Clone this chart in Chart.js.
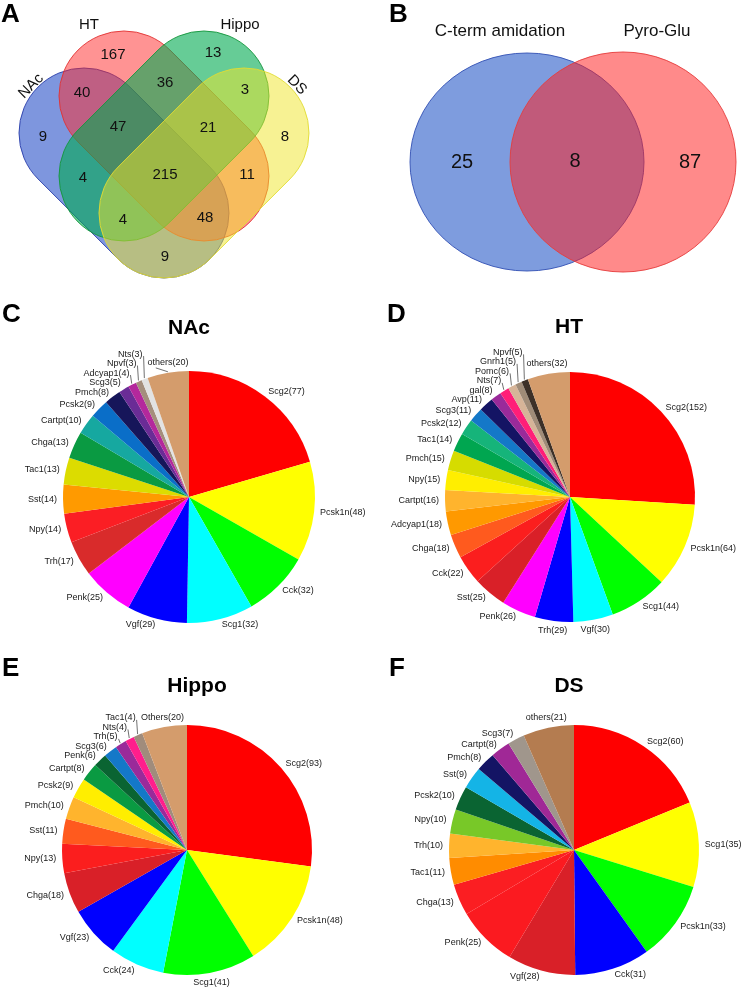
<!DOCTYPE html>
<html><head><meta charset="utf-8">
<script src="https://cdn.jsdelivr.net/npm/chart.js@4.4.1/dist/chart.umd.min.js"></script>
<style>
html,body{margin:0;padding:0;background:#fff;}
#wrap{position:relative;width:744px;height:988px;overflow:hidden;background:#fff;}
canvas{position:absolute;display:block;}
</style></head><body>
<div id="wrap">
<canvas id="cA" width="372" height="300" style="left:0;top:0"></canvas>
<canvas id="cB" width="372" height="300" style="left:372px;top:0"></canvas>
<canvas id="cC" width="372" height="340" style="left:0;top:300px"></canvas>
<canvas id="cD" width="372" height="340" style="left:372px;top:300px"></canvas>
<canvas id="cE" width="372" height="348" style="left:0;top:640px"></canvas>
<canvas id="cF" width="372" height="348" style="left:372px;top:640px"></canvas>
</div>
<script>
// ===================== DATA =====================
// Panel A: 4-set Venn
const vennASets = ['NAc', 'HT', 'Hippo', 'DS'];
const vennARegions = ['HT','Hippo','NAc&HT','HT&Hippo','Hippo&DS','NAc','NAc&HT&Hippo','HT&Hippo&DS','DS','NAc&Hippo','All','HT&DS','NAc&Hippo&DS','NAc&HT&DS','NAc&DS'];
const vennACounts  = [167, 13, 40, 36, 3, 9, 47, 21, 8, 4, 215, 11, 4, 48, 9];

// Panel B: 2-set Venn
const vennBSets = ['C-term amidation', 'Pyro-Glu'];
const vennBRegions = ['C-term only', 'both', 'Pyro-Glu only'];
const vennBCounts = [25, 8, 87];

// Panel C: NAc
const nacLabels = ['Scg2','Pcsk1n','Cck','Scg1','Vgf','Penk','Trh','Npy','Sst','Tac1','Chga','Cartpt','Pcsk2','Pmch','Scg3','Adcyap1','Npvf','Nts','others'];
const nacValues = [77,48,32,32,29,25,17,14,14,13,13,10,9,8,5,4,3,3,20];

// Panel D: HT
const htLabels = ['Scg2','Pcsk1n','Scg1','Vgf','Trh','Penk','Sst','Cck','Chga','Adcyap1','Cartpt','Npy','Pmch','Tac1','Pcsk2','Scg3','Avp','gal','Nts','Pomc','Gnrh1','Npvf','others'];
const htValues = [152,64,44,30,29,26,25,22,18,18,16,15,15,14,12,11,11,8,7,6,5,5,32];

// Panel E: Hippo
const hippoLabels = ['Scg2','Pcsk1n','Scg1','Cck','Vgf','Chga','Npy','Sst','Pmch','Pcsk2','Cartpt','Penk','Scg3','Trh','Nts','Tac1','Others'];
const hippoValues = [93,48,41,24,23,18,13,11,10,9,8,6,6,5,4,4,20];

// Panel F: DS
const dsLabels = ['Scg2','Scg1','Pcsk1n','Cck','Vgf','Penk','Chga','Tac1','Trh','Npy','Pcsk2','Sst','Pmch','Cartpt','Scg3','others'];
const dsValues = [60,35,33,31,28,25,13,11,10,10,10,9,8,8,7,21];

// ===================== STYLE / LAYOUT =====================
const FONT = "'Liberation Sans', Arial, Helvetica, sans-serif";
Chart.defaults.font.family = FONT;
Chart.defaults.animation = false;
Chart.defaults.plugins.legend.display = false;
Chart.defaults.plugins.tooltip.enabled = false;

const nacColors = ['#ff0000','#ffff00','#00ff00','#00ffff','#0000ff','#ff00ff','#d92b2b','#fb1e24','#ff9a00','#dcdc00','#0a9a42','#16a8a0','#0a6ec8','#16165a','#6a2c96','#b4289c','#a48e7c','#e2e2e2','#d49c6c'];
const htColors = ['#ff0000','#ffff00','#00ff00','#00ffff','#0000ff','#ff00ff','#d92028','#fb1e1e','#ff5a1e','#ff9900','#ffb42d','#ffee00','#d6dc00','#00a650','#16b47a','#1478c8','#141464','#9a2a9a','#ff1e78','#d6b498','#a08c78','#3c3028','#d49c6c'];
const hippoColors = ['#ff0000','#ffff00','#00ff00','#00ffff','#0000ff','#d92028','#fb1e1e','#ff5a1e','#ffb42d','#ffee00','#0a9a42','#0a6432','#1478c8','#9a2a9a','#ff1e8c','#a08c7c','#d49c6c'];
const dsColors = ['#ff0000','#ffff00','#00ff00','#0000ff','#d92028','#fb1a20','#fb1e22','#ff8c00','#ffb42d','#78c828','#0a6432','#14b4e6','#141464','#a02896','#a0968c','#b47c50'];

// Venn A geometry (chart units = px of the panel): stadium shapes (cap centres + radius)
const vennAShapes = [
  {c1:[84,133],  c2:[164,213], r:65, fill:'rgba(40,80,200,0.6)',  stroke:'rgba(40,60,170,0.9)'},
  {c1:[124,96],  c2:[204,176], r:65, fill:'rgba(255,40,40,0.5)',  stroke:'rgba(225,50,50,0.9)'},
  {c1:[204,96],  c2:[124,176], r:65, fill:'rgba(0,170,80,0.6)',   stroke:'rgba(20,150,60,0.9)'},
  {c1:[244,133], c2:[164,213], r:65, fill:'rgba(240,230,40,0.5)', stroke:'rgba(225,220,50,0.9)'}
];
const vennALabelPos = [[113,55],[213,53],[82,93],[165,83],[245,90],[43,137],[118,127],[208,128],[285,137],[83,178],[165,175],[247,175],[123,220],[205,218],[165,257]];
const vennASetPos = [[31,86,-45],[89,25,0],[240,25,0],[297,85,45]];

const vennBShapes = [
  {cx:155, cy:162, rx:117, ry:109, fill:'rgba(40,90,200,0.6)', stroke:'rgba(50,80,180,0.9)'},
  {cx:251, cy:162, rx:113, ry:110, fill:'rgba(255,30,30,0.52)', stroke:'rgba(230,60,60,0.9)'}
];
const vennBLabelPos = [[90,162],[203,161],[318,162]];
const vennBSetPos = [[128,31],[285,31]];

// ===================== PLUGINS =====================
const decorPlugin = {
  id: 'decor',
  afterDraw(chart, args, o) {
    const ctx = chart.ctx;
    ctx.save();
    ctx.fillStyle = '#000';
    if (o.letter) {
      ctx.font = 'bold 26px ' + FONT;
      ctx.textAlign = 'left'; ctx.textBaseline = 'alphabetic';
      ctx.fillText(o.letter.text, o.letter.x, o.letter.y);
    }
    if (o.title) {
      ctx.font = 'bold 21px ' + FONT;
      ctx.textAlign = 'center'; ctx.textBaseline = 'middle';
      ctx.fillText(o.title.text, o.title.x, o.title.y);
    }
    ctx.restore();
  }
};

function stadiumPath(ctx, a, b, r) {
  const ang = Math.atan2(b[1]-a[1], b[0]-a[0]);
  ctx.beginPath();
  ctx.arc(b[0], b[1], r, ang - Math.PI/2, ang + Math.PI/2);
  ctx.arc(a[0], a[1], r, ang + Math.PI/2, ang + 3*Math.PI/2);
  ctx.closePath();
}

const vennAPlugin = {
  id: 'vennA',
  beforeDatasetsDraw(chart) {
    const ctx = chart.ctx, xs = chart.scales.x, ys = chart.scales.y;
    const px = p => [xs.getPixelForValue(p[0]), ys.getPixelForValue(p[1])];
    ctx.save();
    vennAShapes.forEach(s => {
      const r = xs.getPixelForValue(s.r) - xs.getPixelForValue(0);
      stadiumPath(ctx, px(s.c1), px(s.c2), r);
      ctx.fillStyle = s.fill; ctx.fill();
      ctx.lineWidth = 1; ctx.strokeStyle = s.stroke; ctx.stroke();
    });
    ctx.restore();
  },
  afterDatasetsDraw(chart) {
    const ctx = chart.ctx, xs = chart.scales.x, ys = chart.scales.y;
    const meta = chart.getDatasetMeta(0);
    ctx.save();
    ctx.fillStyle = '#111';
    ctx.font = '15px ' + FONT;
    ctx.textAlign = 'center'; ctx.textBaseline = 'middle';
    meta.data.forEach((pt, i) => ctx.fillText(String(vennACounts[i]), pt.x, pt.y));
    vennASets.forEach((name, i) => {
      const p = vennASetPos[i];
      ctx.save();
      ctx.translate(xs.getPixelForValue(p[0]), ys.getPixelForValue(p[1]));
      ctx.rotate(p[2] * Math.PI / 180);
      ctx.fillText(name, 0, 0);
      ctx.restore();
    });
    ctx.restore();
  }
};

const vennBPlugin = {
  id: 'vennB',
  beforeDatasetsDraw(chart) {
    const ctx = chart.ctx, xs = chart.scales.x, ys = chart.scales.y;
    ctx.save();
    vennBShapes.forEach(s => {
      const cx = xs.getPixelForValue(s.cx), cy = ys.getPixelForValue(s.cy);
      const rx = xs.getPixelForValue(s.cx + s.rx) - cx;
      const ry = Math.abs(ys.getPixelForValue(s.cy + s.ry) - cy);
      ctx.beginPath();
      ctx.ellipse(cx, cy, rx, ry, 0, 0, Math.PI*2);
      ctx.fillStyle = s.fill; ctx.fill();
      ctx.lineWidth = 1; ctx.strokeStyle = s.stroke; ctx.stroke();
    });
    ctx.restore();
  },
  afterDatasetsDraw(chart) {
    const ctx = chart.ctx, xs = chart.scales.x, ys = chart.scales.y;
    const meta = chart.getDatasetMeta(0);
    ctx.save();
    ctx.fillStyle = '#111';
    ctx.textAlign = 'center'; ctx.textBaseline = 'middle';
    ctx.font = '20px ' + FONT;
    meta.data.forEach((pt, i) => ctx.fillText(String(vennBCounts[i]), pt.x, pt.y));
    ctx.font = '17px ' + FONT;
    vennBSets.forEach((name, i) => ctx.fillText(name, xs.getPixelForValue(vennBSetPos[i][0]), ys.getPixelForValue(vennBSetPos[i][1])));
    ctx.restore();
  }
};

const pieLabelPlugin = {
  id: 'pieLabels',
  afterDatasetsDraw(chart) {
    const ctx = chart.ctx;
    const meta = chart.getDatasetMeta(0);
    const labels = chart.data.labels;
    const vals = chart.data.datasets[0].data;
    const lh = 9.5;
    ctx.save();
    ctx.font = '9px ' + FONT;
    const items = meta.data.map((arc, i) => {
      const p = arc.getProps(['x','y','startAngle','endAngle','outerRadius'], true);
      const mid = (p.startAngle + p.endAngle) / 2;
      const dx = Math.cos(mid), dy = Math.sin(mid);
      const R = p.outerRadius;
      const text = labels[i] + '(' + vals[i] + ')';
      const w = ctx.measureText(text).width;
      const align = dx > 0.22 ? 'left' : (dx < -0.22 ? 'right' : 'center');
      const off = align === 'center' ? 10 : 6;
      const y = p.y + (R + off) * dy;
      return {text, w, align, ax: p.x + (R + 1) * dx, ay: p.y + (R + 1) * dy,
              x: p.x + (R + off) * dx, y, y0: y, x0: p.x + (R + off) * dx, top: dy < 0};
    });
    const left = items.filter(it => it.align === 'right').sort((a, b) => b.y - a.y);
    for (let k = 1; k < left.length; k++) if (left[k].y > left[k-1].y - lh) left[k].y = left[k-1].y - lh;
    const right = items.filter(it => it.align === 'left').sort((a, b) => a.y - b.y);
    for (let k = 1; k < right.length; k++) if (right[k].y < right[k-1].y + lh) right[k].y = right[k-1].y + lh;
    items.filter(it => it.align === 'center' && it.top).forEach(it => {
      left.forEach(o => {
        if (Math.abs(o.y - it.y) < lh && it.x - it.w / 2 < o.x + 5) it.x = o.x + 5 + it.w / 2;
      });
    });
    ctx.strokeStyle = '#333'; ctx.lineWidth = 0.7;
    ctx.fillStyle = '#1a1a1a'; ctx.textBaseline = 'middle';
    items.forEach(it => {
      const moved = Math.abs(it.y - it.y0) > 1.5 || Math.abs(it.x - it.x0) > 1.5;
      if (moved) {
        ctx.beginPath();
        ctx.moveTo(it.ax, it.ay);
        if (it.align === 'right') ctx.lineTo(it.x + 1, it.y + 2);
        else if (it.align === 'left') ctx.lineTo(it.x - 1, it.y);
        else ctx.lineTo(it.x - it.w * 0.3, it.y + 5);
        ctx.stroke();
      }
      ctx.textAlign = it.align;
      ctx.fillText(it.text, it.x, it.y);
    });
    ctx.restore();
  }
};

// ===================== CHARTS =====================
function vennChart(id, positions, plugin, decor) {
  return new Chart(document.getElementById(id), {
    type: 'scatter',
    data: { datasets: [{ data: positions.map(p => ({x: p[0], y: p[1]})), pointRadius: 0, pointHoverRadius: 0 }] },
    options: {
      responsive: false, events: [],
      layout: { padding: 0 },
      scales: {
        x: { type: 'linear', min: 0, max: 372, display: false },
        y: { type: 'linear', min: 0, max: 300, reverse: true, display: false }
      },
      plugins: { decor: decor }
    },
    plugins: [plugin, decorPlugin]
  });
}
vennChart('cA', vennALabelPos, vennAPlugin, { letter: {text: 'A', x: 1, y: 22} });
vennChart('cB', vennBLabelPos, vennBPlugin, { letter: {text: 'B', x: 17, y: 22} });

function pieChart(id, labels, values, colors, padding, decor) {
  return new Chart(document.getElementById(id), {
    type: 'pie',
    data: { labels: labels, datasets: [{ data: values, backgroundColor: colors, borderWidth: 0, hoverOffset: 0 }] },
    options: {
      responsive: false, events: [],
      layout: { padding: padding },
      plugins: { decor: decor }
    },
    plugins: [pieLabelPlugin, decorPlugin]
  });
}
pieChart('cC', nacLabels, nacValues, nacColors, {left: 63, right: 57, top: 71, bottom: 17},
  { letter: {text: 'C', x: 2, y: 22}, title: {text: 'NAc', x: 189, y: 28} });
pieChart('cD', htLabels, htValues, htColors, {left: 73, right: 49, top: 72, bottom: 18},
  { letter: {text: 'D', x: 15, y: 22}, title: {text: 'HT', x: 197, y: 27} });
pieChart('cE', hippoLabels, hippoValues, hippoColors, {left: 62, right: 60, top: 85, bottom: 13},
  { letter: {text: 'E', x: 2, y: 36}, title: {text: 'Hippo', x: 197, y: 46} });
pieChart('cF', dsLabels, dsValues, dsColors, {left: 77, right: 45, top: 85, bottom: 13},
  { letter: {text: 'F', x: 17, y: 36}, title: {text: 'DS', x: 197, y: 46} });
</script>
</body></html>
